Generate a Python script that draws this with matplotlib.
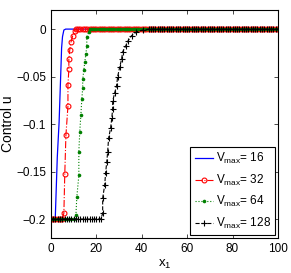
import numpy as np
import matplotlib
matplotlib.use('Agg')
import matplotlib.pyplot as plt

plt.rcParams['font.family'] = ['Liberation Sans', 'DejaVu Sans']
plt.rcParams['mathtext.fontset'] = 'custom'
plt.rcParams['mathtext.rm'] = 'Liberation Sans'
plt.rcParams['mathtext.it'] = 'Liberation Sans'

# Vmax = 16 (solid line, no markers)
x16 = [0, 1.9, 2.8, 3.6, 4.4, 4.7, 5.1, 5.7, 6.5, 100]
u16 = [-0.2, -0.2, -0.135, -0.098, -0.042, -0.02, -0.008, -0.001, 0, 0]

# Vmax = 32 (transition samples)
x32_ramp = [5.7, 6.1, 6.6, 7.5, 7.5, 7.9, 7.9, 8.3, 8.8, 9.6, 10.5]
u32_ramp = [-0.194, -0.153, -0.112, -0.081, -0.059, -0.042, -0.032, -0.022, -0.014, -0.007, -0.002]
x32_low = list(range(0, 6))
x32_high = list(range(11, 101))

# Vmax = 64
x64_ramp = [11.0, 11.4, 12.3, 12.3, 12.7, 13.2, 13.6, 14.0, 14.0, 14.5, 14.9, 15.4, 15.8, 15.8, 16.7]
u64_ramp = [-0.196, -0.177, -0.154, -0.129, -0.108, -0.090, -0.074, -0.062, -0.053, -0.043,
            -0.035, -0.026, -0.018, -0.008, -0.003]
x64_low = list(range(0, 11))
x64_high = list(range(17, 101))

# Vmax = 128
x128_ramp = [22.8, 22.8, 23.7, 24.1, 24.6, 25.0, 25.4, 26.3, 26.8, 27.2, 27.2, 28.1, 28.9, 29.4,
             30.3, 31.1, 31.6, 32.9, 33.8, 35.5, 37.7, 40.4]
u128_ramp = [-0.194, -0.178, -0.164, -0.151, -0.140, -0.129, -0.115, -0.104, -0.094, -0.084, -0.076,
             -0.067, -0.060, -0.050, -0.040, -0.032, -0.024, -0.018, -0.013, -0.007, -0.003, -0.001]
x128_low = list(range(0, 23))
x128_high = list(range(43, 101))

labels = [r'$\mathregular{V_{max}}$= 16', r'$\mathregular{V_{max}}$= 32',
          r'$\mathregular{V_{max}}$= 64', r'$\mathregular{V_{max}}$= 128']


def serie(lo, xr, ur, hi):
    xs = list(lo) + list(xr) + list(hi)
    us = [-0.2] * len(lo) + list(ur) + [0.0] * len(hi)
    return xs, us


fig = plt.figure(figsize=(2.91, 2.73), dpi=100)
ax = fig.add_axes([0.175, 0.128, 0.78, 0.835])

ax.plot(x16, u16, '-', color='b', lw=0.9, label=labels[0])
xs, us = serie(x32_low, x32_ramp, u32_ramp, x32_high)
ax.plot(xs, us, '-.', color='r', lw=0.8, marker='o', ms=3.5, mfc='none', mew=0.8, label=labels[1])
xs, us = serie(x64_low, x64_ramp, u64_ramp, x64_high)
ax.plot(xs, us, ':', color=(0, 0.5, 0), lw=0.8, marker='o', ms=2.6, mew=0, label=labels[2])
xs, us = serie(x128_low, x128_ramp, u128_ramp, x128_high)
ax.plot(xs, us, '--', color='k', lw=0.8, marker='+', ms=4, mew=0.8, label=labels[3])

ax.set_xlim(0, 100)
ax.set_ylim(-0.22, 0.02)
ax.set_xticks([0, 20, 40, 60, 80, 100])
ax.set_yticks([-0.2, -0.15, -0.1, -0.05, 0])
ax.set_yticklabels(['\u22120.2', '\u22120.15', '\u22120.1', '\u22120.05', '0'])
ax.tick_params(direction='in', top=True, right=True, labelsize=8.5, length=3, width=0.5)
for s in ax.spines.values():
    s.set_linewidth(0.8)
ax.set_xlabel(r'x$_1$', fontsize=9.5, labelpad=2)
ax.set_ylabel('Control u', fontsize=10, labelpad=1)

leg = ax.legend(loc='lower right', fontsize=8.5, fancybox=False, edgecolor='k',
                handlelength=1.6, handletextpad=0.2, borderpad=0.35, labelspacing=0.55,
                borderaxespad=0.25, framealpha=1)
leg.get_frame().set_linewidth(0.8)

fig.savefig('out.png', dpi=100)
